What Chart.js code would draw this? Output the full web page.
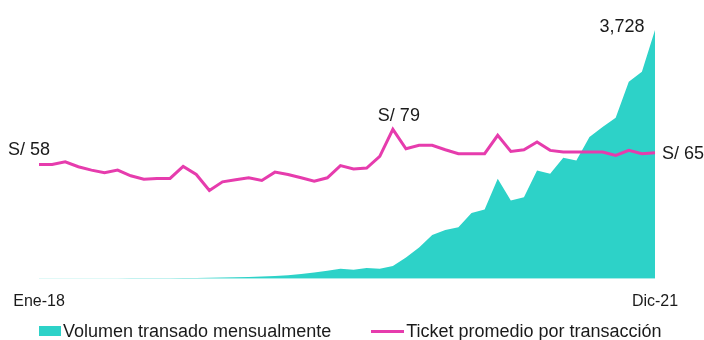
<!DOCTYPE html>
<html>
<head>
<meta charset="utf-8">
<script src="https://cdn.jsdelivr.net/npm/chart.js@4/dist/chart.umd.min.js"></script>
<style>
  html, body { margin: 0; padding: 0; background: #fff; }
  #wrap { width: 704px; height: 340px; position: relative; }
  #legend {
    position: absolute; left: 39px; top: 321px;
    display: flex; align-items: center;
    font: 18px 'Liberation Sans', Arial, sans-serif; color: #1a1a1a;
    line-height: 20px; white-space: nowrap;
  }
  #legend .item { display: flex; align-items: center; margin-right: 40px; }
  #legend .swatch { margin-right: 2px; }
</style>
</head>
<body>
<div id="wrap"><canvas id="chart"></canvas><div id="legend"></div></div>
<script>
const months = ["Ene", "Feb", "Mar", "Abr", "May", "Jun", "Jul", "Ago", "Set", "Oct", "Nov", "Dic"];
const years = ["18", "19", "20", "21"];
const labels = [];
years.forEach((y) => months.forEach((m) => labels.push(m + "-" + y)));

// volumen transado mensualmente (area)
const volumen = [
  3, 3, 4, 4, 5, 5, 6, 7, 8, 9, 10, 12,
  13, 15, 18, 22, 28, 35, 42, 55, 72, 95, 120, 150,
  135, 160, 150, 190, 320, 470, 656, 731, 771, 987, 1037, 1498,
  1172, 1222, 1623, 1573, 1814, 1773, 2124, 2274, 2415, 2951, 3101, 3728,
];

// ticket promedio por transaccion (S/)
const ticket = [
  58, 58, 59.6, 56.6, 54.6, 53, 54.6, 51.2, 49.2, 49.6, 49.6, 56.8,
  52, 42.4, 47.6, 48.8, 50, 48.4, 53.4, 52, 50, 48, 50, 57.3,
  55.3, 55.8, 62.8, 79, 67.4, 69.4, 69.4, 66.8, 64.4, 64.4, 64.4, 75.4,
  65.8, 66.8, 71.4, 66.4, 65.4, 65.4, 65.4, 65.4, 63.4, 66.4, 64.4, 65,
];

const teal = "#2dd2c8";
const pink = "#e63cad";
const font = "'Liberation Sans', Arial, sans-serif";

const fmtSoles = (v) => "S/ " + Math.round(v);

// draws the value labels next to a few points
const valueLabels = {
  id: "valueLabels",
  afterDatasetsDraw(chart) {
    const ctx = chart.ctx;
    const area = chart.getDatasetMeta(0).data;
    const line = chart.getDatasetMeta(1).data;
    const last = ticket.length - 1;
    const peak = ticket.indexOf(Math.max(...ticket));
    ctx.save();
    ctx.font = "18px " + font;
    ctx.fillStyle = "#1a1a1a";
    ctx.textBaseline = "alphabetic";

    ctx.textAlign = "center";
    ctx.fillText(fmtSoles(ticket[0]), line[0].x - 10, line[0].y - 9);
    ctx.fillText(fmtSoles(ticket[peak]), line[peak].x + 6, line[peak].y - 8);
    ctx.fillText(volumen[last].toLocaleString("en-US"), area[last].x - 33, area[last].y + 2);

    ctx.textAlign = "left";
    ctx.textBaseline = "middle";
    ctx.fillText(fmtSoles(ticket[last]), line[last].x + 7, line[last].y + 1);
    ctx.restore();
  },
};

const chart = new Chart(document.querySelector("#chart"), {
  type: "line",
  data: {
    labels: labels,
    datasets: [
      {
        label: "Volumen transado mensualmente",
        data: volumen,
        yAxisID: "y",
        fill: "origin",
        backgroundColor: teal,
        borderColor: teal,
        borderWidth: 0,
        pointRadius: 0,
        tension: 0,
        order: 2,
      },
      {
        label: "Ticket promedio por transacción",
        data: ticket,
        yAxisID: "y1",
        fill: false,
        borderColor: pink,
        backgroundColor: pink,
        borderWidth: 3,
        pointRadius: 0,
        tension: 0,
        order: 1,
      },
    ],
  },
  options: {
    responsive: true,
    maintainAspectRatio: false,
    animation: false,
    layout: { padding: { left: 0, right: 0, top: 30, bottom: 16 } },
    plugins: {
      tooltip: { enabled: false },
      legend: { display: false },
    },
    scales: {
      x: {
        offset: false,
        grid: { display: false, drawTicks: false },
        border: { display: false },
        ticks: {
          autoSkip: false,
          maxRotation: 0,
          color: "#1a1a1a",
          padding: 13,
          font: { family: font, size: 16 },
          callback: (val, i) => (i === 0 || i === labels.length - 1 ? labels[i] : ""),
        },
      },
      y: {
        position: "left",
        min: 0,
        max: 3728,
        grid: { display: false },
        border: { display: false },
        ticks: { display: false },
        afterFit: (scale) => { scale.width = 39; },
      },
      y1: {
        position: "right",
        min: -10.4,
        max: 138.4,
        grid: { display: false },
        border: { display: false },
        ticks: { display: false },
        afterFit: (scale) => { scale.width = 49; },
      },
    },
  },
  plugins: [valueLabels],
});

// html legend built from the datasets
const legend = document.querySelector("#legend");
chart.data.datasets.forEach((ds, i) => {
  const item = document.createElement("div");
  item.className = "item";
  const swatch = document.createElement("span");
  swatch.className = "swatch";
  swatch.style.background = ds.backgroundColor;
  swatch.style.width = i === 0 ? "22px" : "33px";
  swatch.style.height = i === 0 ? "10px" : "3px";
  const text = document.createElement("span");
  text.textContent = ds.label;
  item.appendChild(swatch);
  item.appendChild(text);
  legend.appendChild(item);
});
</script>
</body>
</html>
